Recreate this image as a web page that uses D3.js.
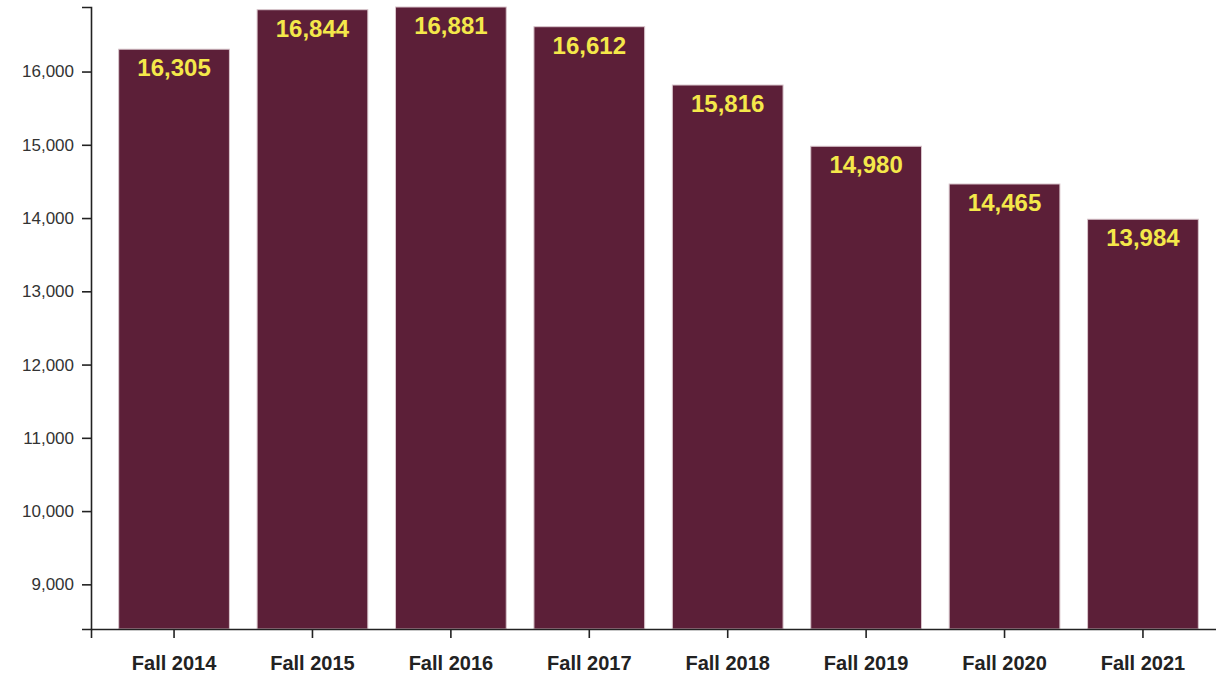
<!DOCTYPE html>
<html>
<head>
<meta charset="utf-8">
<script src="https://cdn.jsdelivr.net/npm/d3@7"></script>
<style>
  body { margin: 0; background: #fff; }
  svg { display: block; font-family: "Liberation Sans", Arial, sans-serif; }
  .axis path, .axis line { stroke: #222; stroke-width: 1.6; }
  .y-axis text { font-size: 17px; fill: #333; }
  .x-axis text { font-size: 20px; font-weight: bold; fill: #222; }
  .bar { fill: #5c1f38; stroke: #d9c6cc; stroke-width: 1; }
  .label { font-size: 24px; font-weight: bold; fill: #f4e84a; text-anchor: middle; }
</style>
</head>
<body>
<div id="d3-container"></div>
<script>
/**
 * CONSTANTS AND GLOBALS
 * */
const width = 1216,
  height = 674,
  margin = { top: 7, bottom: 45, left: 91, right: -10 };

// enrollment by term
const terms = ["Fall 2014", "Fall 2015", "Fall 2016", "Fall 2017", "Fall 2018", "Fall 2019", "Fall 2020", "Fall 2021"];
const enrollment = [16305, 16844, 16881, 16612, 15816, 14980, 14465, 13984];
const yTicks = [9000, 10000, 11000, 12000, 13000, 14000, 15000, 16000];

const data = terms.map((t, i) => ({ term: t, value: enrollment[i] }));

let svg = d3
  .select("#d3-container")
  .append("svg")
  .attr("width", width)
  .attr("height", height);

// x: band scale for the terms
const xScale = d3.scaleBand()
  .domain(terms)
  .range([margin.left, width - margin.right])
  .paddingInner(0.2)
  .paddingOuter(0.2);

// y axis doesn't start at zero, bottom sits at 60% of the smallest value
const yScale = d3.scaleLinear()
  .domain([d3.min(enrollment) * 0.6, d3.max(enrollment)])
  .range([height - margin.bottom, margin.top]);

// bars
svg.selectAll(".bar")
  .data(data)
  .join("rect")
  .attr("class", "bar")
  .attr("x", d => xScale(d.term))
  .attr("y", d => yScale(d.value))
  .attr("width", xScale.bandwidth())
  .attr("height", d => yScale.range()[0] - yScale(d.value));

// value labels inside the top of each bar
svg.selectAll(".label")
  .data(data)
  .join("text")
  .attr("class", "label")
  .attr("x", d => xScale(d.term) + xScale.bandwidth() / 2)
  .attr("y", d => yScale(d.value) + 27)
  .text(d => d3.format(",")(d.value));

// axes
svg.append("g")
  .attr("class", "axis x-axis")
  .attr("transform", `translate(0,${height - margin.bottom})`)
  .call(d3.axisBottom(xScale).tickSize(9).tickPadding(18));

svg.append("g")
  .attr("class", "axis y-axis")
  .attr("transform", `translate(${margin.left},0)`)
  .call(d3.axisLeft(yScale).tickValues(yTicks).tickFormat(d3.format(",")).tickSize(9).tickPadding(8));

svg.selectAll(".axis text").attr("font-family", null).attr("font-size", null);
</script>
</body>
</html>
